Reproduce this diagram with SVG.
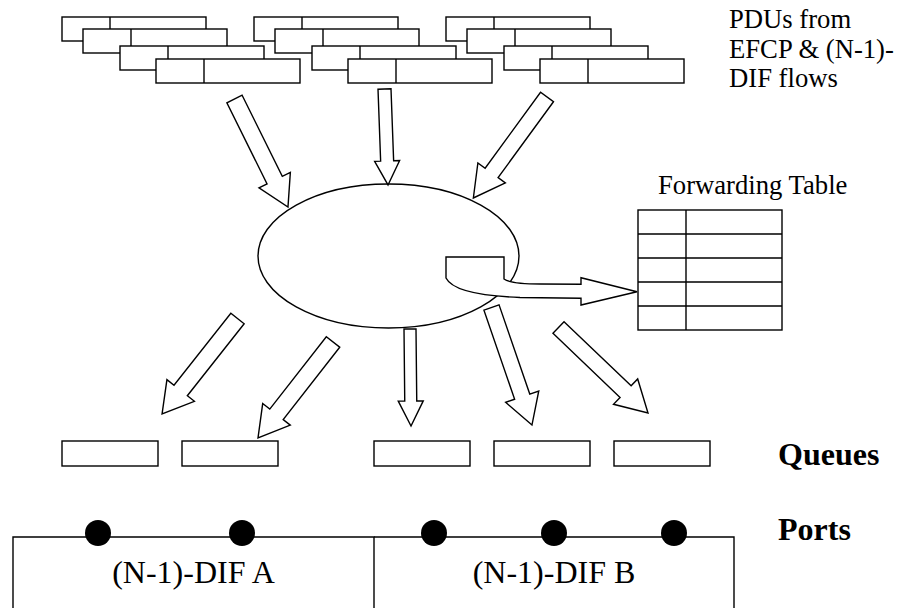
<svg xmlns="http://www.w3.org/2000/svg" xmlns:xlink="http://www.w3.org/1999/xlink" width="897" height="608" viewBox="0 0 897 608">
<style>
.ln{fill:#fff;stroke:#000;stroke-width:1.4}
.nf{fill:none;stroke:#000;stroke-width:1.4}
.t{font-family:"Liberation Serif","Times New Roman",serif;fill:#000}
.s20{font-size:26.67px}
.s24{font-size:32px}
.b{font-weight:bold}
</style>
<defs>
<g id="pdu">
<rect class="ln" x="0" y="0" width="144" height="24"/>
<line class="nf" x1="48" y1="0" x2="48" y2="24"/>
</g>
<rect id="queue" class="ln" x="0" y="0" width="96" height="25"/>
</defs>
<rect width="897" height="608" fill="#fff"/>

<g id="pdu-stack-1">
<use xlink:href="#pdu" x="62" y="17"/>
<use xlink:href="#pdu" x="83" y="29"/>
<use xlink:href="#pdu" x="120" y="46"/>
<use xlink:href="#pdu" x="156" y="59"/>
</g>
<g id="pdu-stack-2">
<use xlink:href="#pdu" x="254" y="17"/>
<use xlink:href="#pdu" x="275" y="29"/>
<use xlink:href="#pdu" x="312" y="46"/>
<use xlink:href="#pdu" x="348" y="59"/>
</g>
<g id="pdu-stack-3">
<use xlink:href="#pdu" x="446" y="17"/>
<use xlink:href="#pdu" x="467" y="29"/>
<use xlink:href="#pdu" x="504" y="46"/>
<use xlink:href="#pdu" x="540" y="59"/>
</g>
<g id="label-pdus">
<text class="t s20" x="729" y="27.7">PDUs from</text>
<text class="t s20" x="729" y="57.5">EFCP &amp; (N-1)-</text>
<text class="t s20" x="729" y="87.3">DIF flows</text>
</g>

<g id="forwarder">
<ellipse class="ln" cx="388.5" cy="256" rx="130.5" ry="72"/>
</g>

<g id="forwarding-table">
<text class="t s20" x="658" y="194">Forwarding Table</text>
<rect class="ln" x="638" y="210" width="144" height="120"/>
<path class="nf" d="M686,210V330M638,234H782M638,258H782M638,282H782M638,306H782"/>
</g>

<g id="queues">
<use xlink:href="#queue" x="62" y="441"/>
<use xlink:href="#queue" x="182" y="441"/>
<use xlink:href="#queue" x="374" y="441"/>
<use xlink:href="#queue" x="494" y="441"/>
<use xlink:href="#queue" x="614" y="441"/>
<text class="t s24 b" x="778" y="465">Queues</text>
</g>

<g id="dif-a">
<path class="nf" d="M13,610V537H374V610"/>
<text class="t s24" x="193.5" y="583" text-anchor="middle">(N-1)-DIF A</text>
</g>
<g id="dif-b">
<path class="nf" d="M374,537H734V610"/>
<text class="t s24" x="554" y="583" text-anchor="middle">(N-1)-DIF B</text>
</g>
<g id="ports">
<circle cx="98" cy="533" r="13"/>
<circle cx="242" cy="533" r="13"/>
<circle cx="434" cy="533" r="13"/>
<circle cx="554" cy="533" r="13"/>
<circle cx="674" cy="533" r="13"/>
<text class="t s24 b" x="778" y="540">Ports</text>
</g>

<g id="connectors">
<path class="ln" transform="translate(234.5,99) rotate(63.65)" d="M0,-8.5H90.5V-17.5L120.5,0L90.5,17.5V8.5H0Z"/>
<path class="ln" transform="translate(384.5,89) rotate(87.9)" d="M0,-6.5H72V-12.5L96,0L72,12.5V6.5H0Z"/>
<path class="ln" transform="translate(547,97) rotate(126.1)" d="M0,-8H94V-17L125,0L94,17V8H0Z"/>
<path class="ln" transform="translate(237.5,318.5) rotate(128.3)" d="M0,-8.5H91.7V-17.5L121.7,0L91.7,17.5V8.5H0Z"/>
<path class="ln" transform="translate(333,342) rotate(128)" d="M0,-8.5H91.8V-17.5L121.8,0L91.8,17.5V8.5H0Z"/>
<path class="ln" transform="translate(410,329) rotate(89.4)" d="M0,-6H72V-12.5L97,0L72,12.5V6H0Z"/>
<path class="ln" transform="translate(491.5,307.5) rotate(71)" d="M0,-8H94.3V-17.5L124.3,0L94.3,17.5V8H0Z"/>
<path class="ln" transform="translate(558.5,327.5) rotate(43.7)" d="M0,-8H92.8V-17.5L123.8,0L92.8,17.5V8H0Z"/>
<path class="ln" d="M446,257H504V279C508,282 520,284 540,284L581,284.3V277.7L637,291.7L581,305V298.3L520,297.5C480,296 452,290 446,278Z"/>
</g>
</svg>
